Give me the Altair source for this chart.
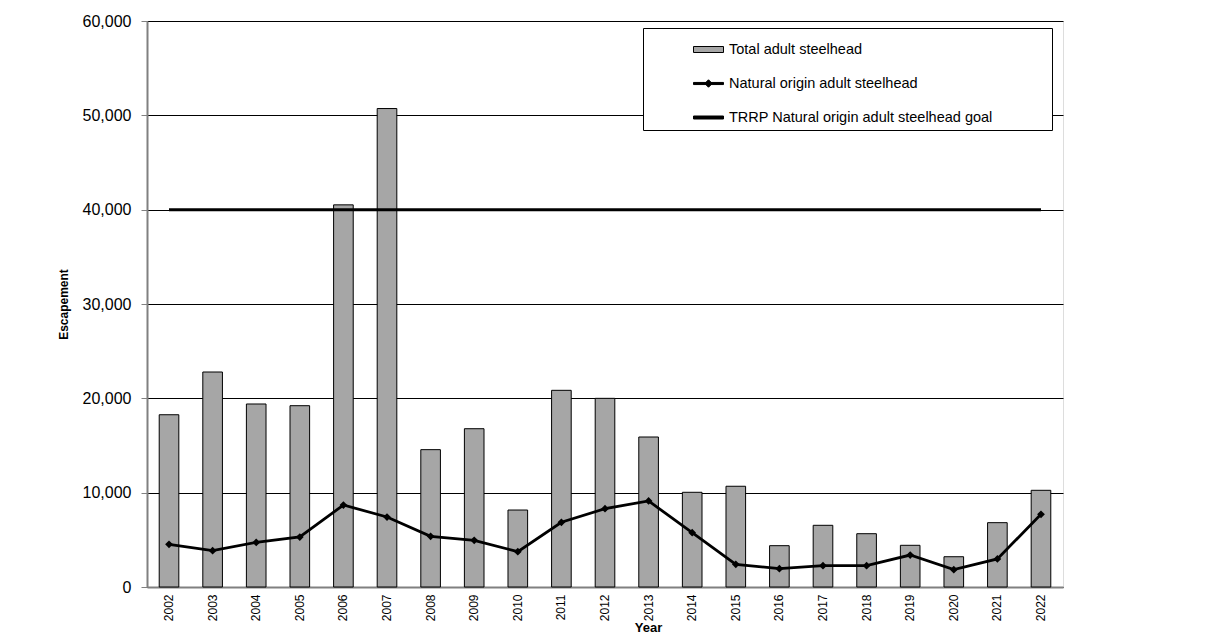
import altair as alt
import pandas as pd

years = [str(y) for y in range(2002, 2023)]
total_adult = [18260, 22790, 19400, 19220, 40510, 50720, 14560, 16780, 8160, 20850,
               20000, 15900, 10040, 10680, 4380, 6540, 5650, 4420, 3210, 6820, 10250]
natural_origin = [4520, 3850, 4730, 5300, 8690, 7420, 5370, 4950, 3740, 6860,
                  8300, 9120, 5760, 2400, 1940, 2260, 2260, 3390, 1840, 2970, 7710]
goal_years = ["2002", "2022"]
goal_values = [40000, 40000]
series_labels = ["Total adult steelhead", "Natural origin adult steelhead",
                 "TRRP Natural origin adult steelhead goal"]
y_ticks = [0, 10000, 20000, 30000, 40000, 50000, 60000]

df = pd.DataFrame({"Year": years, "Total": total_adult, "Natural": natural_origin})
goal_df = pd.DataFrame({"Year": goal_years, "Goal": goal_values})
legend_df = pd.DataFrame({"Series": series_labels})

FONT = "Liberation Sans"

x_scale = alt.Scale(domain=years, paddingInner=0.55, paddingOuter=0.28)
y_scale = alt.Scale(domain=[0, 60000], nice=False)

x_enc = alt.X("Year:N", scale=x_scale, sort=years,
              axis=alt.Axis(title="Year", labelAngle=270, labelFont=FONT, labelFontSize=12,
                            labelColor="black", labelPadding=7, ticks=False,
                            domainColor="#808080", domainWidth=2,
                            titleFont=FONT, titleFontSize=13, titleFontWeight="bold",
                            titleColor="black", titleX=501, titleY=34, titleAnchor="middle"))

y_axis = alt.Axis(title="Escapement", values=y_ticks, format=",d", grid=True,
                  gridColor="black", gridWidth=1, gridOpacity=1,
                  labelFont=FONT, labelFontSize=16, labelColor="black", labelPadding=10,
                  tickColor="#808080", tickSize=6, domainColor="#808080", domainWidth=2,
                  titleFont=FONT, titleFontSize=12, titleFontWeight="bold",
                  titleColor="black", titlePadding=12)

bars = alt.Chart(df).mark_bar(color="#a6a6a6", stroke="black", strokeWidth=1).encode(
    x=x_enc,
    y=alt.Y("Total:Q", scale=y_scale, axis=y_axis),
)

natural = alt.Chart(df).mark_line(
    color="black", strokeWidth=2.8,
    point=alt.OverlayMarkDef(shape="diamond", size=60, filled=True, color="black", opacity=1),
).encode(
    x=alt.X("Year:N", scale=x_scale, sort=years),
    y=alt.Y("Natural:Q", scale=y_scale),
)

goal = alt.Chart(goal_df).mark_line(color="black", strokeWidth=3).encode(
    x=alt.X("Year:N", scale=x_scale, sort=years),
    y=alt.Y("Goal:Q", scale=y_scale),
)

shape_paths = [
    "M-1,-0.2H1V0.2H-1Z",
    "M-1,-0.07H1V0.07H-1ZM0,-0.25L0.25,0L0,0.25L-0.25,0Z",
    "M-1,-0.1H1V0.1H-1Z",
]

legend_props = dict(
    title=".", titleOrient="right", titleColor="white", titleFontSize=2, titlePadding=52,
    orient="none", legendX=496, legendY=7,
    symbolSize=900, symbolStrokeColor="black", symbolStrokeWidth=1,
    symbolOpacity=1, symbolOffset=44,
    labelFont=FONT, labelFontSize=14.5, labelColor="black",
    labelOffset=5, rowPadding=12, padding=6,
    fillColor="white", strokeColor="black",
    labelLimit=600,
)

legend_layer = alt.Chart(legend_df).transform_filter(
    "datum.Series == 'none'"
).mark_point(filled=True, opacity=1, strokeWidth=1).encode(
    shape=alt.Shape("Series:N", scale=alt.Scale(domain=series_labels, range=shape_paths),
                    legend=alt.Legend(**legend_props)),
    fill=alt.Fill("Series:N", scale=alt.Scale(domain=series_labels,
                                              range=["#a6a6a6", "black", "black"]),
                  legend=alt.Legend(**legend_props)),
    stroke=alt.Stroke("Series:N", scale=alt.Scale(domain=series_labels,
                                                  range=["black", "black", "black"]),
                      legend=alt.Legend(**legend_props)),
)

chart = alt.layer(bars, goal, natural, legend_layer).properties(
    width=916, height=566,
    padding={"left": 139, "top": 13, "right": 150, "bottom": 60},
    autosize=alt.AutoSizeParams(type="none"),
).configure_view(stroke="black", strokeWidth=1).configure(background="white")

chart.save("out.html", embed_options={"renderer": "svg", "actions": False})
